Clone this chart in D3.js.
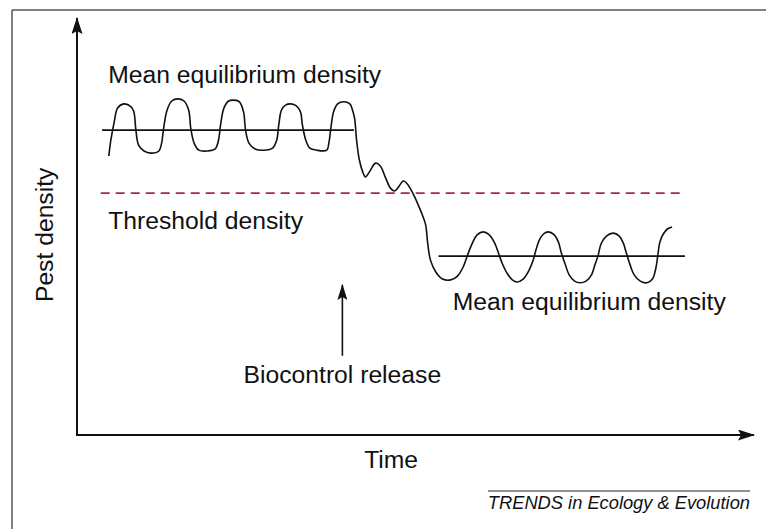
<!DOCTYPE html>
<html>
  <head>
    <meta charset="utf-8">
    <style>
      body { margin: 0; background: #fff; }
      text { font-family: "Liberation Sans", Arial, sans-serif; fill: #111; }
      .label { font-size: 24.7px; }
      .credit { font-size: 18.3px; font-style: italic; }
      .trace { fill: none; stroke: #111; stroke-width: 1.6px; }
      .mean { stroke: #111; stroke-width: 1.6px; }
      .axis-line { stroke: #111; stroke-width: 2px; }
    </style>
  </head>
  <body>
    <script src="https://d3js.org/d3.v7.min.js"></script>
    <script>
    var width = 766, height = 529;

    // pest density through time (arbitrary units, 0-100 on both axes)
    var time = [4.7, 5.0, 5.5, 6.0, 6.9, 8.0, 8.4, 8.7, 9.1, 9.9, 10.9, 12.1, 12.5, 12.8, 13.3, 14.0, 14.9,
      15.8, 16.5, 16.8, 17.3, 18.0, 19.2, 20.4, 20.9, 21.2, 21.7, 22.4, 23.2, 24.0, 24.6, 24.9, 25.4, 26.3,
      27.6, 28.9, 29.5, 29.8, 30.2, 30.8, 31.6, 32.4, 33.0, 33.3, 33.8, 34.4, 35.4, 36.9, 37.2, 37.5, 37.9,
      38.5, 39.4, 40.3, 40.7, 41.0, 41.3, 41.7, 42.2, 42.6, 43.2, 44.1, 44.8, 45.6, 46.3, 46.9, 47.5, 48.2,
      48.8, 49.6, 50.4, 51.0, 51.5, 51.8, 52.2, 53.0, 54.0, 55.2, 56.2, 57.1, 57.7, 58.4, 59.1, 60.0, 60.9,
      61.7, 62.2, 62.8, 63.6, 64.3, 65.0, 65.9, 66.8, 67.4, 67.8, 68.3, 68.9, 69.6, 70.5, 71.1, 71.5, 72.1,
      72.7, 73.5, 74.3, 75.2, 76.0, 76.5, 77.0, 77.4, 78.2, 79.2, 80.1, 80.7, 81.1, 81.7, 82.3, 83.2, 84.2,
      85.0, 85.5, 85.8, 86.1, 86.6, 87.2, 87.9];
    var density = [66.9, 70.7, 75.1, 78.4, 79.4, 78.7, 77.5, 73.1, 69.5, 68.1, 67.6, 68.1, 70.0, 73.6, 77.9, 80.1, 80.6,
      80.1, 77.9, 73.6, 70.0, 68.3, 68.1, 68.6, 70.7, 74.3, 78.4, 80.1, 80.3, 79.9, 77.5, 73.1, 70.0, 68.6,
      68.3, 68.8, 70.7, 74.3, 77.9, 79.1, 79.4, 78.9, 77.5, 74.3, 70.7, 68.8, 68.3, 68.3, 70.0, 73.6, 77.5,
      79.4, 79.9, 79.4, 77.9, 76.0, 70.7, 66.0, 63.1, 61.9, 63.1, 65.2, 64.5, 61.6, 59.2, 58.5, 59.5, 60.9,
      60.2, 58.0, 55.2, 52.8, 50.4, 46.0, 42.0, 39.1, 37.4, 37.2, 38.1, 40.5, 43.2, 46.0, 48.0, 48.7, 48.0,
      46.0, 43.9, 41.2, 38.6, 37.2, 36.7, 37.4, 39.6, 42.0, 44.4, 46.8, 48.2, 48.7, 48.0, 46.3, 43.9, 41.0,
      38.4, 36.9, 36.5, 36.9, 38.4, 40.8, 43.2, 45.8, 47.7, 48.4, 47.7, 46.0, 43.9, 40.8, 38.4, 36.9, 36.5,
      37.4, 40.0, 43.2, 46.3, 48.2, 49.4, 49.9];

    // reference levels: [start time, end time, density]
    var meanBefore = [3.7, 40.9, 73.1];
    var meanAfter = [53.4, 89.8, 42.9];
    var threshold = [3.5, 89.8, 58.0];
    var releaseTime = 39.2;
    var releaseArrow = [19.0, 36.0];   // density at arrow foot and tip

    var labels = [
      { text: "Mean equilibrium density", t: 4.6, d: 84.4 },
      { text: "Threshold density", t: 4.6, d: 49.4 },
      { text: "Mean equilibrium density", t: 55.5, d: 30.0 },
      { text: "Biocontrol release", t: 24.6, d: 12.5 }
    ];

    var x = d3.scaleLinear().domain([0, 100]).range([77, 754]);
    var y = d3.scaleLinear().domain([0, 100]).range([435, 18]);

    var svg = d3.select("body")
        .append("svg")
        .attr("width", width)
        .attr("height", height);

    var defs = svg.append("defs");
    defs.append("marker")
        .attr("id", "head")
        .attr("viewBox", "0 0 17 11")
        .attr("refX", 16)
        .attr("refY", 5.5)
        .attr("markerWidth", 17)
        .attr("markerHeight", 11)
        .attr("markerUnits", "userSpaceOnUse")
        .attr("orient", "auto")
      .append("path")
        .attr("d", "M0,0 L17,5.5 L0,11 L3,5.5 Z")
        .attr("fill", "#111");
    defs.append("marker")
        .attr("id", "headSmall")
        .attr("viewBox", "0 0 16 10")
        .attr("refX", 15)
        .attr("refY", 5)
        .attr("markerWidth", 16)
        .attr("markerHeight", 10)
        .attr("markerUnits", "userSpaceOnUse")
        .attr("orient", "auto")
      .append("path")
        .attr("d", "M0,0 L16,5 L0,10 L3,5 Z")
        .attr("fill", "#111");

    // frame
    svg.append("line")
        .attr("x1", 12).attr("y1", 10).attr("x2", width).attr("y2", 10)
        .attr("stroke", "#555").attr("stroke-width", 1.5);
    svg.append("line")
        .attr("x1", 12).attr("y1", 10).attr("x2", 12).attr("y2", height)
        .attr("stroke", "#555").attr("stroke-width", 1.5);

    // axes
    svg.append("line")
        .attr("class", "axis-line")
        .attr("x1", x(0)).attr("y1", y(0))
        .attr("x2", x(0)).attr("y2", y(100))
        .attr("marker-end", "url(#head)");
    svg.append("line")
        .attr("class", "axis-line")
        .attr("x1", x(0) - 1).attr("y1", y(0))
        .attr("x2", x(100)).attr("y2", y(0))
        .attr("marker-end", "url(#head)");

    svg.append("text")
        .attr("class", "label")
        .attr("text-anchor", "middle")
        .attr("transform", "translate(53," + y(48) + ") rotate(-90)")
        .text("Pest density");
    svg.append("text")
        .attr("class", "label")
        .attr("text-anchor", "middle")
        .attr("x", x(46.4)).attr("y", 468)
        .text("Time");

    // threshold
    svg.append("line")
        .attr("x1", x(threshold[0])).attr("x2", x(threshold[1]))
        .attr("y1", y(threshold[2])).attr("y2", y(threshold[2]))
        .attr("stroke", "#a3285a")
        .attr("stroke-width", 1.6)
        .attr("stroke-dasharray", "9,6");

    // mean levels
    [meanBefore, meanAfter].forEach(function(m) {
      svg.append("line")
          .attr("class", "mean")
          .attr("x1", x(m[0])).attr("x2", x(m[1]))
          .attr("y1", y(m[2])).attr("y2", y(m[2]));
    });

    var line = d3.line()
        .x(function(d, i) { return x(time[i]); })
        .y(function(d) { return y(d); })
        .curve(d3.curveCatmullRom.alpha(0.5));

    svg.append("path")
        .datum(density)
        .attr("class", "trace")
        .attr("d", line);

    // release arrow
    svg.append("line")
        .attr("x1", x(releaseTime)).attr("x2", x(releaseTime))
        .attr("y1", y(releaseArrow[0])).attr("y2", y(releaseArrow[1]))
        .attr("stroke", "#111").attr("stroke-width", 1.6)
        .attr("marker-end", "url(#headSmall)");

    svg.selectAll(".note")
        .data(labels)
        .enter().append("text")
        .attr("class", "label note")
        .attr("x", function(d) { return x(d.t); })
        .attr("y", function(d) { return y(d.d); })
        .text(function(d) { return d.text; });

    // credit line
    svg.append("line")
        .attr("x1", 488).attr("x2", 750)
        .attr("y1", 491).attr("y2", 491)
        .attr("stroke", "#222").attr("stroke-width", 1);
    svg.append("text")
        .attr("class", "credit")
        .attr("text-anchor", "end")
        .attr("x", 750).attr("y", 509)
        .text("TRENDS in Ecology & Evolution");
    </script>
  </body>
</html>
